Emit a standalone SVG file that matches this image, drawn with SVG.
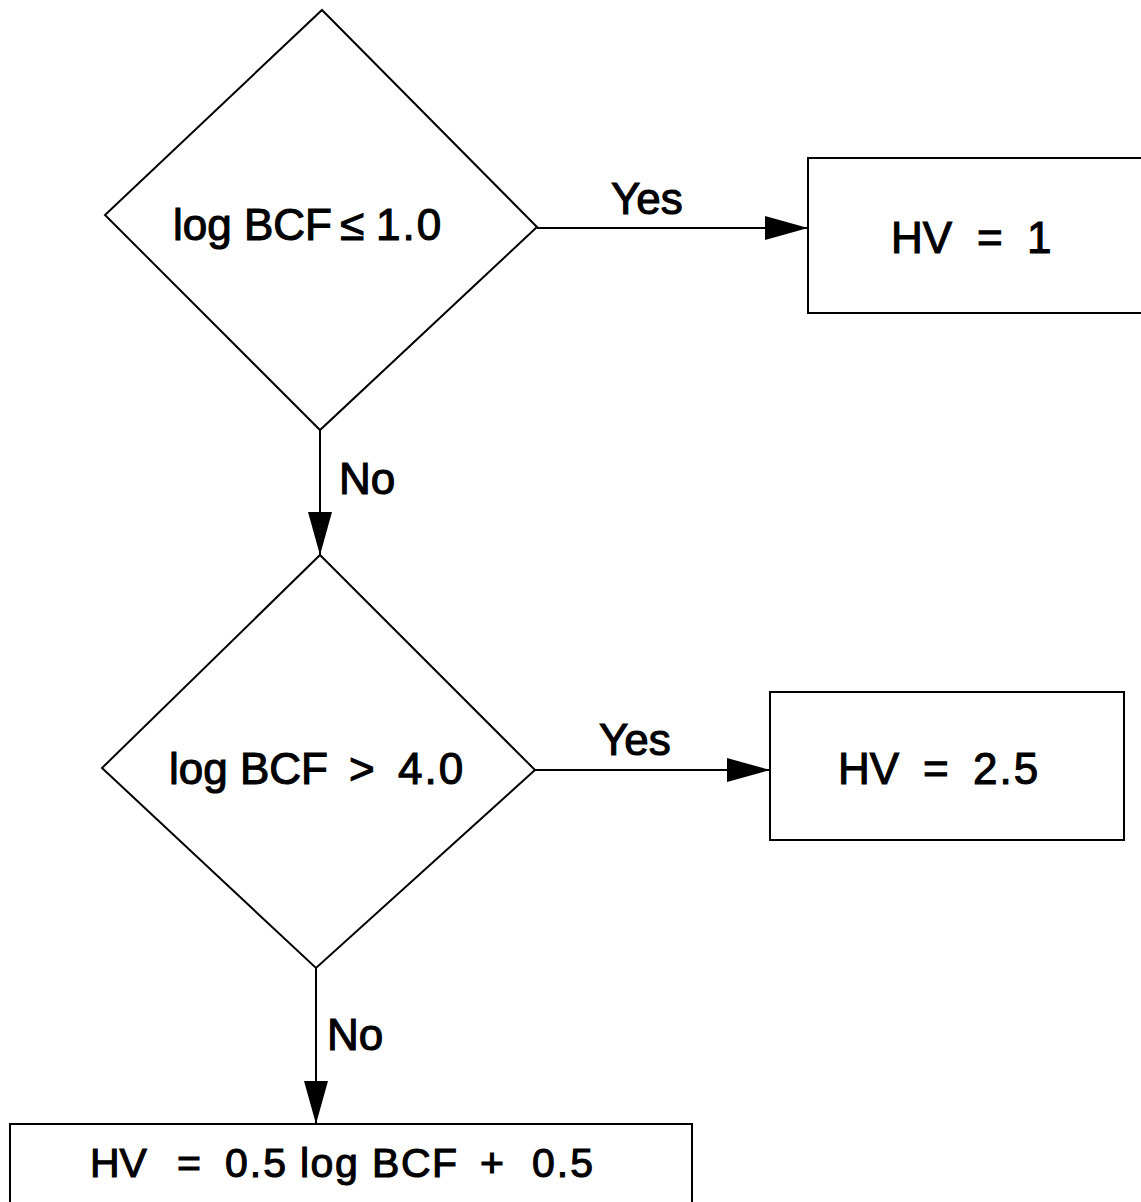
<svg xmlns="http://www.w3.org/2000/svg" width="1141" height="1202" viewBox="0 0 1141 1202">
<style>
.s{fill:none;stroke:#000;stroke-width:2}
.t{font-family:"Liberation Sans",Arial,sans-serif;font-size:44px;fill:#000;stroke:#000;stroke-width:1.1}
.t3{font-size:41px}
.n{letter-spacing:2px}
.c{stroke:#000;stroke-width:2;fill:none}
</style>
<defs>
<marker id="ah" markerUnits="userSpaceOnUse" markerWidth="46" markerHeight="26" refX="43" refY="13" orient="auto">
<path d="M0,1 L43,13 L0,25 Z" fill="#000"/>
</marker>
</defs>
<rect width="1141" height="1202" fill="#fff"/>
<g id="d1">
<polygon class="s" points="322,10 537,227 320,430 105,215"/>
<text class="t" y="240"><tspan x="173">log BCF</tspan><tspan x="340">≤</tspan><tspan class="n" x="376">1.0</tspan></text>
</g>
<g id="b1">
<rect class="s" x="808" y="158" width="340" height="155"/>
<text class="t" y="253"><tspan x="891">HV</tspan><tspan x="977">=</tspan><tspan x="1027">1</tspan></text>
</g>
<g id="d2">
<polygon class="s" points="320,555 535,770 316,968 102,768"/>
<text class="t" y="784"><tspan x="169">log BCF</tspan><tspan x="349">&gt;</tspan><tspan class="n" x="398">4.0</tspan></text>
</g>
<g id="b2">
<rect class="s" x="770" y="692" width="354" height="148"/>
<text class="t" y="784"><tspan x="838">HV</tspan><tspan x="923">=</tspan><tspan class="n" x="973">2.5</tspan></text>
</g>
<g id="b3">
<rect class="s" x="10" y="1124" width="682" height="90"/>
<text class="t t3" y="1177"><tspan x="90">HV</tspan><tspan x="177">=</tspan><tspan class="n" x="225">0.5</tspan><tspan x="300" style="letter-spacing:1.5px">log BCF</tspan><tspan x="480">+</tspan><tspan class="n" x="532">0.5</tspan></text>
</g>
<g id="connectors">
<line class="c" x1="537" y1="228" x2="808" y2="228" marker-end="url(#ah)"/>
<text class="t" x="611" y="214">Yes</text>
<line class="c" x1="320" y1="430" x2="320" y2="555" marker-end="url(#ah)"/>
<text class="t" x="339" y="494">No</text>
<line class="c" x1="535" y1="770" x2="770" y2="770" marker-end="url(#ah)"/>
<text class="t" x="599" y="755">Yes</text>
<line class="c" x1="316" y1="968" x2="316" y2="1124" marker-end="url(#ah)"/>
<text class="t" x="327" y="1050">No</text>
</g>
</svg>
